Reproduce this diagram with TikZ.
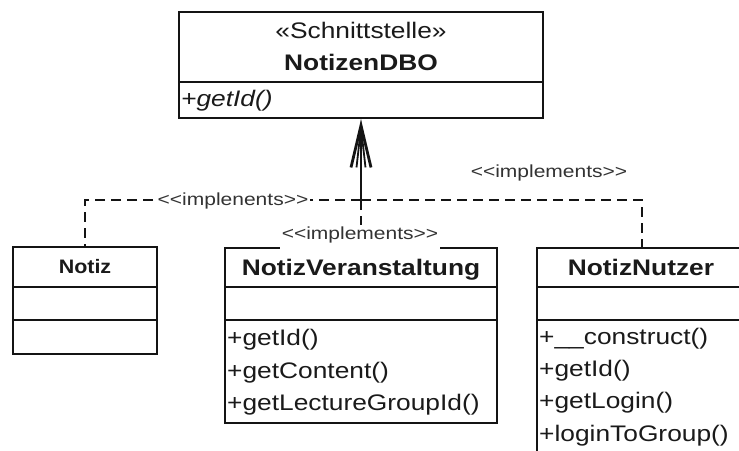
\documentclass[tikz,border=0pt]{standalone}
\usepackage{fontspec}
\setmainfont{Liberation Sans}
\usepackage{graphicx}
\usetikzlibrary{arrows.meta}

% horizontally widened text
\newcommand{\wider}[2][1.17]{\scalebox{#1}[1]{#2}}

\definecolor{linec}{HTML}{141414}
\definecolor{textc}{HTML}{1A1A1A}
\definecolor{labelc}{HTML}{333333}

\begin{document}
\begin{tikzpicture}[x=1pt,y=-1pt,
  classbox/.style={draw=linec, line width=2.8pt, rectangle, inner sep=0pt},
  divider/.style={draw=linec, line width=2.8pt},
  title/.style={font=\fontsize{22.5}{24}\selectfont\bfseries, text=textc, inner sep=0pt, anchor=base},
  stereotype/.style={font=\fontsize{22.5}{24}\selectfont, text=textc, inner sep=0pt, anchor=base},
  member/.style={font=\fontsize{22.5}{24}\selectfont, text=textc, inner sep=0pt, anchor=base west},
  absmember/.style={member, font=\fontsize{22.5}{24}\selectfont\itshape},
  rellabel/.style={font=\fontsize{17.5}{19}\selectfont, text=labelc, inner ysep=1pt, inner xsep=1.5pt, anchor=base},
  dashline/.style={draw=linec, line width=2.8pt, dash pattern=on 10pt off 6pt},
  solidline/.style={draw=linec, line width=2.8pt},
]
\clip (0,0) rectangle (739,450);
\fill[white] (0,0) rectangle (739,450);

% interface NotizenDBO
\node[classbox, minimum width=364pt, minimum height=106pt] (dbo) at (361,65) {};
\draw[divider] (179,82) -- (543,82);
\node[stereotype] (dbo-st) at (361,38) {\wider{«Schnittstelle»}};
\node[title] (dbo-name) at (361,70) {\wider{NotizenDBO}};
\node[absmember] (dbo-m1) at (181,106) {\wider{+getId()}};

% class Notiz
\node[classbox, minimum width=144pt, minimum height=107pt] (notiz) at (85,300.5) {};
\draw[divider] (13,287) -- (157,287);
\draw[divider] (13,320) -- (157,320);
\node[title, font=\fontsize{19.5}{21}\selectfont\bfseries] (notiz-name) at (85,273) {\wider[1.1]{Notiz}};

% class NotizVeranstaltung
\node[classbox, minimum width=272pt, minimum height=175pt] (nv) at (361,335.5) {};
\draw[divider] (225,287) -- (497,287);
\draw[divider] (225,320) -- (497,320);
\node[title] (nv-name) at (361,275) {\wider{NotizVeranstaltung}};
\node[member] (nv-m1) at (227,345) {\wider{+getId()}};
\node[member] (nv-m2) at (227,378) {\wider{+getContent()}};
\node[member] (nv-m3) at (227,410) {\wider{+getLectureGroupId()}};

% class NotizNutzer
\node[classbox, minimum width=210pt, minimum height=232pt] (nn) at (642,364) {};
\draw[divider] (537,287) -- (747,287);
\draw[divider] (537,320) -- (747,320);
\node[title] (nn-name) at (641,275) {\wider{NotizNutzer}};
\node[member] (nn-m1) at (539,344) {\wider{+\_\_construct()}};
\node[member] (nn-m2) at (539,376) {\wider{+getId()}};
\node[member] (nn-m3) at (539,408) {\wider{+getLogin()}};
\node[member] (nn-m4) at (539,441) {\wider{+loginToGroup()}};

% realization connectors
\coordinate (hub) at (361,200);
\coordinate (hubtail) at (361,208);
\draw[dashline] (hub) -| (notiz.north);
\draw[dashline] (hub) -| (nn.north);
\draw[dashline] (hub) -- (nv.north);
\draw[solidline, -{Straight Barb[length=42pt,width=20pt]}] (hubtail) -- (dbo.south);
\draw[solidline, line width=1.8pt, -{Straight Barb[length=40pt,width=9pt]}] (hubtail) -- (dbo.south);

% connector labels
\node[rellabel, fill=white] (lab-notiz) at (233,205) {\wider[1.2]{<{}<implenents>{}>}};
\node[rellabel] (lab-nn) at (549,177) {\wider[1.2]{<{}<implements>{}>}};
\node[rellabel, fill=white, text height=14pt, text depth=10pt, inner ysep=0.5pt] (lab-nv) at (360,239) {\wider[1.2]{<{}<implements>{}>}};
\end{tikzpicture}
\end{document}
